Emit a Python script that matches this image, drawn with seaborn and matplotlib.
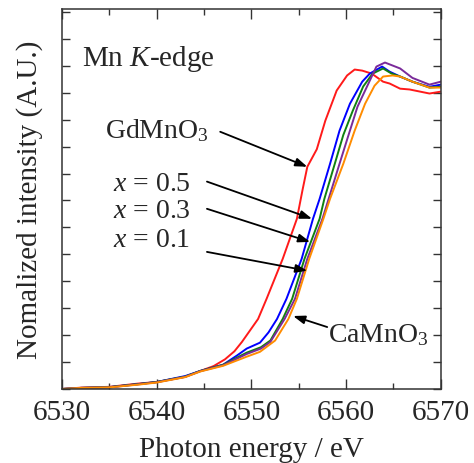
import numpy as np
import pandas as pd
import matplotlib as mpl
mpl.use('Agg')
import matplotlib.pyplot as plt
import matplotlib.ticker as ticker
import seaborn as sns

# Mn K-edge XANES
e_red = [6530, 6532, 6535, 6538, 6540, 6543, 6544.6, 6546.0, 6547.2, 6548.2, 6549.0, 6550.7,
         6551.6, 6553.3, 6554.8, 6555.4, 6555.9, 6556.9, 6557.8, 6559.0, 6560.1, 6560.9,
         6561.7, 6562.7, 6563.9, 6564.6, 6565.7, 6566.7, 6568.8, 6570]
v_red = [0.0, 0.005, 0.008, 0.02, 0.026, 0.045, 0.067, 0.085, 0.11, 0.14, 0.175, 0.26,
         0.335, 0.483, 0.632, 0.74, 0.825, 0.89, 0.996, 1.108, 1.164, 1.186,
         1.182, 1.171, 1.141, 1.134, 1.115, 1.112, 1.097, 1.104]

e_blue = [6530, 6532, 6535, 6538, 6540, 6543, 6544.6, 6547.0, 6548.5, 6549.5, 6550.9, 6551.8,
          6552.7, 6553.7, 6555.3, 6556.5, 6557.2, 6558.3, 6559.3, 6560.4, 6561.7, 6562.5,
          6563.8, 6564.6, 6565.7, 6567.0, 6568.8, 6570]
v_blue = [0.0, 0.004, 0.007, 0.018, 0.026, 0.048, 0.067, 0.09, 0.125, 0.15, 0.172, 0.21,
          0.26, 0.335, 0.483, 0.632, 0.706, 0.836, 0.959, 1.059, 1.141, 1.171,
          1.197, 1.178, 1.16, 1.141, 1.122, 1.13]

e_green = [6530, 6532, 6535, 6538, 6540, 6543, 6544.6, 6547.0, 6549.5, 6551.0, 6552.0, 6553.3,
           6554.3, 6555.6, 6557.2, 6557.7, 6558.8, 6559.7, 6560.7, 6561.8, 6562.8, 6563.9,
           6564.8, 6565.7, 6567.0, 6568.8, 6570]
v_green = [0.0, 0.004, 0.007, 0.018, 0.026, 0.046, 0.067, 0.09, 0.135, 0.155, 0.18, 0.26,
           0.335, 0.483, 0.632, 0.706, 0.836, 0.943, 1.033, 1.123, 1.171, 1.19,
           1.171, 1.16, 1.141, 1.119, 1.122]

e_purple = [6530, 6532, 6535, 6538, 6540, 6543, 6544.6, 6547.0, 6549.5, 6551.0, 6552.0, 6553.5,
            6554.6, 6555.9, 6557.5, 6559.3, 6560.2, 6561.2, 6562.5, 6563.2, 6564.1, 6564.9,
            6565.7, 6567.0, 6568.8, 6570]
v_purple = [0.0, 0.004, 0.006, 0.017, 0.025, 0.045, 0.066, 0.088, 0.13, 0.15, 0.175, 0.26,
            0.335, 0.483, 0.632, 0.836, 0.937, 1.048, 1.145, 1.197, 1.212, 1.201,
            1.19, 1.155, 1.13, 1.141]

e_orange = [6530, 6532, 6535, 6538, 6540, 6543, 6544.6, 6547.0, 6549.5, 6550.9, 6552.5, 6553.9,
            6554.8, 6556.1, 6557.6, 6558.3, 6559.7, 6560.9, 6562.0, 6563.0, 6563.9, 6564.9,
            6565.7, 6567.0, 6568.8, 6570]
v_orange = [0.0, 0.004, 0.006, 0.016, 0.024, 0.044, 0.065, 0.086, 0.12, 0.138, 0.18, 0.26,
            0.335, 0.483, 0.632, 0.706, 0.836, 0.959, 1.059, 1.126, 1.16, 1.164,
            1.16, 1.141, 1.119, 1.119]

samples = ['GdMnO3', 'x=0.5', 'x=0.3', 'x=0.1', 'CaMnO3']
colors = ['#ff1a1a', '#0000ff', '#108010', '#7a2a9a', '#ff8c00']

frames = []
for name, e, v in zip(samples,
                      [e_red, e_blue, e_green, e_purple, e_orange],
                      [v_red, v_blue, v_green, v_purple, v_orange]):
    frames.append(pd.DataFrame({'energy': e, 'intensity': v, 'sample': name}))
df = pd.concat(frames, ignore_index=True)

sns.set_style('ticks')
plt.rcParams['font.family'] = ['Liberation Serif', 'DejaVu Serif']
plt.rcParams['mathtext.fontset'] = 'custom'
plt.rcParams['mathtext.rm'] = 'Liberation Serif'
plt.rcParams['mathtext.it'] = 'Liberation Serif:italic'

fig = plt.figure(figsize=(4.74, 4.64), dpi=100)
ax = fig.add_axes([0.131, 0.1595, 0.799, 0.8185])

sns.lineplot(data=df, x='energy', y='intensity', hue='sample', palette=dict(zip(samples, colors)),
             estimator=None, sort=False, legend=False, lw=1.4, ax=ax)

ax.set_xlim(6530, 6570)
ax.set_ylim(0, 1.41)
ax.xaxis.set_major_locator(ticker.MultipleLocator(10))
ax.xaxis.set_minor_locator(ticker.MultipleLocator(5))
ax.yaxis.set_major_locator(ticker.MultipleLocator(0.1))
ax.set_yticklabels([])
ax.tick_params(axis='both', which='both', direction='in', top=True, right=True,
               width=1.0, color='#333333')
ax.tick_params(axis='x', which='major', length=7, labelsize=21, pad=7)
ax.tick_params(axis='x', which='minor', length=4)
ax.tick_params(axis='y', which='major', length=6)
for s in ax.spines.values():
    s.set_linewidth(1.1)
    s.set_color('#333333')

ax.set_xlabel('Photon energy / eV', fontsize=21, labelpad=8)
ax.set_ylabel('Nomalized intensity (A.U.)', fontsize=21, labelpad=10)

ax.text(6532.1, 1.204, r'Mn $K$-edge', fontsize=21, va='baseline', ha='left')
ax.text(6534.5, 0.937, r'GdMnO$_3$', fontsize=20, va='baseline', ha='left')
ax.text(6535.4, 0.740, r'$x$ = 0.5', fontsize=20, va='baseline', ha='left')
ax.text(6535.4, 0.639, r'$x$ = 0.3', fontsize=20, va='baseline', ha='left')
ax.text(6535.4, 0.532, r'$x$ = 0.1', fontsize=20, va='baseline', ha='left')
ax.text(6558.1, 0.178, r'CaMnO$_3$', fontsize=20, va='baseline', ha='left')

arrows = [((6546.7, 0.955), (6555.9, 0.825)),
          ((6545.3, 0.770), (6556.4, 0.632)),
          ((6545.3, 0.669), (6556.2, 0.546)),
          ((6545.3, 0.509), (6555.9, 0.439)),
          ((6558.0, 0.230), (6554.4, 0.271))]
for start, end in arrows:
    ax.annotate('', xy=end, xytext=start,
                arrowprops=dict(arrowstyle='-|>,head_length=0.7,head_width=0.25',
                                color='black', lw=1.3, shrinkA=0, shrinkB=0))

fig.savefig('out.png', dpi=100)
